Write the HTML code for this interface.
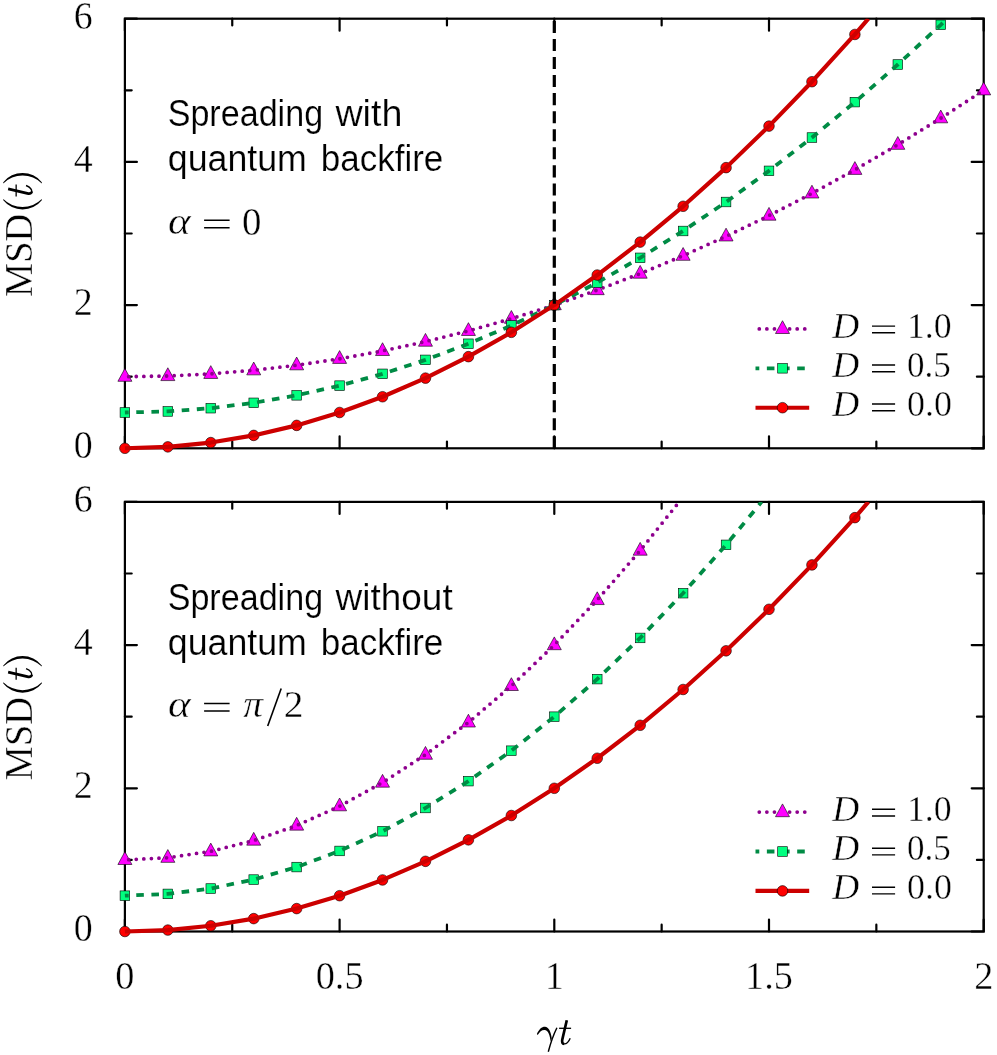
<!DOCTYPE html>
<html><head><meta charset="utf-8"><title>MSD</title>
<style>html,body{margin:0;padding:0;background:#fff}svg{display:block;will-change:transform}text{font-family:"Liberation Serif",serif;fill:#000;stroke:#fff;stroke-width:0.4px}.ss{font-family:"Liberation Sans",sans-serif;stroke-width:0.2px}</style>
</head><body>
<svg width="997" height="1055" viewBox="0 0 997 1055">
<defs>
<clipPath id="cp0"><rect x="116.9" y="18.7" width="874.8000000000001" height="437.6"/></clipPath>
<clipPath id="cp1"><rect x="116.9" y="501.9" width="874.8000000000001" height="437.6"/></clipPath>
</defs>
<rect width="997" height="1055" fill="#fff"/>
<g stroke="#000" stroke-width="2.2" fill="none" stroke-linecap="round" stroke-linejoin="miter">
<rect x="124.9" y="18.7" width="858.8000000000001" height="429.6"/>
<path d="M124.90 448.3v-12.0M124.90 18.7v12.0M232.25 448.3v-6.8M232.25 18.7v6.8M339.60 448.3v-12.0M339.60 18.7v12.0M446.95 448.3v-6.8M446.95 18.7v6.8M554.30 448.3v-12.0M554.30 18.7v12.0M661.65 448.3v-6.8M661.65 18.7v6.8M769.00 448.3v-12.0M769.00 18.7v12.0M876.35 448.3v-6.8M876.35 18.7v6.8M983.70 448.3v-12.0M983.70 18.7v12.0M124.9 448.30h12.0M983.7 448.30h-12.0M124.9 376.70h6.8M983.7 376.70h-6.8M124.9 305.10h12.0M983.7 305.10h-12.0M124.9 233.50h6.8M983.7 233.50h-6.8M124.9 161.90h12.0M983.7 161.90h-12.0M124.9 90.30h6.8M983.7 90.30h-6.8M124.9 18.70h12.0M983.7 18.70h-12.0"/>
</g>
<g clip-path="url(#cp0)">
<path d="M124.90 368.50L117.90 381.30L131.90 381.30Z" fill="#ff00ff" stroke="#000" stroke-width="0.6" stroke-linejoin="miter"/>
<path d="M167.84 367.78L160.84 380.58L174.84 380.58Z" fill="#ff00ff" stroke="#000" stroke-width="0.6" stroke-linejoin="miter"/>
<path d="M210.78 365.64L203.78 378.44L217.78 378.44Z" fill="#ff00ff" stroke="#000" stroke-width="0.6" stroke-linejoin="miter"/>
<path d="M253.72 362.06L246.72 374.86L260.72 374.86Z" fill="#ff00ff" stroke="#000" stroke-width="0.6" stroke-linejoin="miter"/>
<path d="M296.66 357.04L289.66 369.84L303.66 369.84Z" fill="#ff00ff" stroke="#000" stroke-width="0.6" stroke-linejoin="miter"/>
<path d="M339.60 350.60L332.60 363.40L346.60 363.40Z" fill="#ff00ff" stroke="#000" stroke-width="0.6" stroke-linejoin="miter"/>
<path d="M382.54 342.72L375.54 355.52L389.54 355.52Z" fill="#ff00ff" stroke="#000" stroke-width="0.6" stroke-linejoin="miter"/>
<path d="M425.48 333.42L418.48 346.22L432.48 346.22Z" fill="#ff00ff" stroke="#000" stroke-width="0.6" stroke-linejoin="miter"/>
<path d="M468.42 322.68L461.42 335.48L475.42 335.48Z" fill="#ff00ff" stroke="#000" stroke-width="0.6" stroke-linejoin="miter"/>
<path d="M511.36 310.50L504.36 323.30L518.36 323.30Z" fill="#ff00ff" stroke="#000" stroke-width="0.6" stroke-linejoin="miter"/>
<path d="M554.30 296.90L547.30 309.70L561.30 309.70Z" fill="#ff00ff" stroke="#000" stroke-width="0.6" stroke-linejoin="miter"/>
<path d="M597.24 281.86L590.24 294.66L604.24 294.66Z" fill="#ff00ff" stroke="#000" stroke-width="0.6" stroke-linejoin="miter"/>
<path d="M640.18 265.40L633.18 278.20L647.18 278.20Z" fill="#ff00ff" stroke="#000" stroke-width="0.6" stroke-linejoin="miter"/>
<path d="M683.12 247.50L676.12 260.30L690.12 260.30Z" fill="#ff00ff" stroke="#000" stroke-width="0.6" stroke-linejoin="miter"/>
<path d="M726.06 228.16L719.06 240.96L733.06 240.96Z" fill="#ff00ff" stroke="#000" stroke-width="0.6" stroke-linejoin="miter"/>
<path d="M769.00 207.40L762.00 220.20L776.00 220.20Z" fill="#ff00ff" stroke="#000" stroke-width="0.6" stroke-linejoin="miter"/>
<path d="M811.94 185.20L804.94 198.00L818.94 198.00Z" fill="#ff00ff" stroke="#000" stroke-width="0.6" stroke-linejoin="miter"/>
<path d="M854.88 161.58L847.88 174.38L861.88 174.38Z" fill="#ff00ff" stroke="#000" stroke-width="0.6" stroke-linejoin="miter"/>
<path d="M897.82 136.52L890.82 149.32L904.82 149.32Z" fill="#ff00ff" stroke="#000" stroke-width="0.6" stroke-linejoin="miter"/>
<path d="M940.76 110.02L933.76 122.82L947.76 122.82Z" fill="#ff00ff" stroke="#000" stroke-width="0.6" stroke-linejoin="miter"/>
<path d="M983.70 82.10L976.70 94.90L990.70 94.90Z" fill="#ff00ff" stroke="#000" stroke-width="0.6" stroke-linejoin="miter"/>
<path d="M124.90 376.70L167.84 375.98L210.78 373.84L253.72 370.26L296.66 365.24L339.60 358.80L382.54 350.92L425.48 341.62L468.42 330.88L511.36 318.70L554.30 305.10L597.24 290.06L640.18 273.60L683.12 255.70L726.06 236.36L769.00 215.60L811.94 193.40L854.88 169.78L897.82 144.72L940.76 118.22L983.70 90.30" fill="none" stroke="#8e008e" stroke-width="3.79" stroke-linejoin="round" stroke-dasharray="0 7.58" stroke-dashoffset="3.79" stroke-linecap="round"/>
<rect x="120.10" y="407.70" width="9.60" height="9.60" fill="#00ff7f" stroke="#000" stroke-width="0.6"/>
<rect x="163.04" y="406.63" width="9.60" height="9.60" fill="#00ff7f" stroke="#000" stroke-width="0.6"/>
<rect x="205.98" y="403.40" width="9.60" height="9.60" fill="#00ff7f" stroke="#000" stroke-width="0.6"/>
<rect x="248.92" y="398.03" width="9.60" height="9.60" fill="#00ff7f" stroke="#000" stroke-width="0.6"/>
<rect x="291.86" y="390.52" width="9.60" height="9.60" fill="#00ff7f" stroke="#000" stroke-width="0.6"/>
<rect x="334.80" y="380.85" width="9.60" height="9.60" fill="#00ff7f" stroke="#000" stroke-width="0.6"/>
<rect x="377.74" y="369.04" width="9.60" height="9.60" fill="#00ff7f" stroke="#000" stroke-width="0.6"/>
<rect x="420.68" y="355.07" width="9.60" height="9.60" fill="#00ff7f" stroke="#000" stroke-width="0.6"/>
<rect x="463.62" y="338.96" width="9.60" height="9.60" fill="#00ff7f" stroke="#000" stroke-width="0.6"/>
<rect x="506.56" y="320.71" width="9.60" height="9.60" fill="#00ff7f" stroke="#000" stroke-width="0.6"/>
<rect x="549.50" y="300.30" width="9.60" height="9.60" fill="#00ff7f" stroke="#000" stroke-width="0.6"/>
<rect x="592.44" y="277.75" width="9.60" height="9.60" fill="#00ff7f" stroke="#000" stroke-width="0.6"/>
<rect x="635.38" y="253.04" width="9.60" height="9.60" fill="#00ff7f" stroke="#000" stroke-width="0.6"/>
<rect x="678.32" y="226.19" width="9.60" height="9.60" fill="#00ff7f" stroke="#000" stroke-width="0.6"/>
<rect x="721.26" y="197.20" width="9.60" height="9.60" fill="#00ff7f" stroke="#000" stroke-width="0.6"/>
<rect x="764.20" y="166.05" width="9.60" height="9.60" fill="#00ff7f" stroke="#000" stroke-width="0.6"/>
<rect x="807.14" y="132.76" width="9.60" height="9.60" fill="#00ff7f" stroke="#000" stroke-width="0.6"/>
<rect x="850.08" y="97.31" width="9.60" height="9.60" fill="#00ff7f" stroke="#000" stroke-width="0.6"/>
<rect x="893.02" y="59.72" width="9.60" height="9.60" fill="#00ff7f" stroke="#000" stroke-width="0.6"/>
<rect x="935.96" y="19.99" width="9.60" height="9.60" fill="#00ff7f" stroke="#000" stroke-width="0.6"/>
<path d="M124.90 412.50L167.84 411.43L210.78 408.20L253.72 402.83L296.66 395.32L339.60 385.65L382.54 373.84L425.48 359.87L468.42 343.76L511.36 325.51L554.30 305.10L597.24 282.55L640.18 257.84L683.12 230.99L726.06 202.00L769.00 170.85L811.94 137.56L854.88 102.11L897.82 64.52L940.76 24.79L947.00 18.70" fill="none" stroke="#008b45" stroke-width="3.79" stroke-linejoin="round" stroke-dasharray="7.58 7.58" stroke-dashoffset="3.79" stroke-linecap="butt"/>
<circle cx="124.90" cy="448.30" r="5.3" fill="#ff0000" stroke="#000" stroke-width="0.6"/>
<circle cx="167.84" cy="446.87" r="5.3" fill="#ff0000" stroke="#000" stroke-width="0.6"/>
<circle cx="210.78" cy="442.57" r="5.3" fill="#ff0000" stroke="#000" stroke-width="0.6"/>
<circle cx="253.72" cy="435.41" r="5.3" fill="#ff0000" stroke="#000" stroke-width="0.6"/>
<circle cx="296.66" cy="425.39" r="5.3" fill="#ff0000" stroke="#000" stroke-width="0.6"/>
<circle cx="339.60" cy="412.50" r="5.3" fill="#ff0000" stroke="#000" stroke-width="0.6"/>
<circle cx="382.54" cy="396.75" r="5.3" fill="#ff0000" stroke="#000" stroke-width="0.6"/>
<circle cx="425.48" cy="378.13" r="5.3" fill="#ff0000" stroke="#000" stroke-width="0.6"/>
<circle cx="468.42" cy="356.65" r="5.3" fill="#ff0000" stroke="#000" stroke-width="0.6"/>
<circle cx="511.36" cy="332.31" r="5.3" fill="#ff0000" stroke="#000" stroke-width="0.6"/>
<circle cx="554.30" cy="305.10" r="5.3" fill="#ff0000" stroke="#000" stroke-width="0.6"/>
<circle cx="597.24" cy="275.03" r="5.3" fill="#ff0000" stroke="#000" stroke-width="0.6"/>
<circle cx="640.18" cy="242.09" r="5.3" fill="#ff0000" stroke="#000" stroke-width="0.6"/>
<circle cx="683.12" cy="206.29" r="5.3" fill="#ff0000" stroke="#000" stroke-width="0.6"/>
<circle cx="726.06" cy="167.63" r="5.3" fill="#ff0000" stroke="#000" stroke-width="0.6"/>
<circle cx="769.00" cy="126.10" r="5.3" fill="#ff0000" stroke="#000" stroke-width="0.6"/>
<circle cx="811.94" cy="81.71" r="5.3" fill="#ff0000" stroke="#000" stroke-width="0.6"/>
<circle cx="854.88" cy="34.45" r="5.3" fill="#ff0000" stroke="#000" stroke-width="0.6"/>
<path d="M124.90 448.30L167.84 446.87L210.78 442.57L253.72 435.41L296.66 425.39L339.60 412.50L382.54 396.75L425.48 378.13L468.42 356.65L511.36 332.31L554.30 305.10L597.24 275.03L640.18 242.09L683.12 206.29L726.06 167.63L769.00 126.10L811.94 81.71L854.88 34.45L868.38 18.70" fill="none" stroke="#cc0000" stroke-width="4.15" stroke-linejoin="round" stroke-linecap="butt"/>
</g>
<path d="M554.30 448.3V18.7" stroke="#000" stroke-width="3.2" stroke-dasharray="12.04 6.02" fill="none"/>
<path d="M755.5 328.90H809.2" fill="none" stroke="#8e008e" stroke-width="3.79" stroke-dasharray="0 7.58" stroke-dashoffset="3.79" stroke-linecap="round"/>
<path d="M782.50 320.70L775.50 333.50L789.50 333.50Z" fill="#ff00ff" stroke="#000" stroke-width="0.6" stroke-linejoin="miter"/>
<path d="M755.5 368.30H809.2" fill="none" stroke="#008b45" stroke-width="3.79" stroke-dasharray="7.58 7.58" stroke-dashoffset="3.79" stroke-linecap="butt"/>
<rect x="777.70" y="363.50" width="9.60" height="9.60" fill="#00ff7f" stroke="#000" stroke-width="0.6"/>
<path d="M755.5 407.70H809.2" fill="none" stroke="#cc0000" stroke-width="4.15" stroke-linecap="butt"/>
<circle cx="782.50" cy="407.70" r="5.3" fill="#ff0000" stroke="#000" stroke-width="0.6"/>
<g stroke="#000" stroke-width="2.2" fill="none" stroke-linecap="round" stroke-linejoin="miter">
<rect x="124.9" y="501.9" width="858.8000000000001" height="429.6"/>
<path d="M124.90 931.5v-12.0M124.90 501.9v12.0M232.25 931.5v-6.8M232.25 501.9v6.8M339.60 931.5v-12.0M339.60 501.9v12.0M446.95 931.5v-6.8M446.95 501.9v6.8M554.30 931.5v-12.0M554.30 501.9v12.0M661.65 931.5v-6.8M661.65 501.9v6.8M769.00 931.5v-12.0M769.00 501.9v12.0M876.35 931.5v-6.8M876.35 501.9v6.8M983.70 931.5v-12.0M983.70 501.9v12.0M124.9 931.50h12.0M983.7 931.50h-12.0M124.9 859.90h6.8M983.7 859.90h-6.8M124.9 788.30h12.0M983.7 788.30h-12.0M124.9 716.70h6.8M983.7 716.70h-6.8M124.9 645.10h12.0M983.7 645.10h-12.0M124.9 573.50h6.8M983.7 573.50h-6.8M124.9 501.90h12.0M983.7 501.90h-12.0"/>
</g>
<g clip-path="url(#cp1)">
<path d="M124.90 851.70L117.90 864.50L131.90 864.50Z" fill="#ff00ff" stroke="#000" stroke-width="0.6" stroke-linejoin="miter"/>
<path d="M167.84 849.55L160.84 862.35L174.84 862.35Z" fill="#ff00ff" stroke="#000" stroke-width="0.6" stroke-linejoin="miter"/>
<path d="M210.78 843.11L203.78 855.91L217.78 855.91Z" fill="#ff00ff" stroke="#000" stroke-width="0.6" stroke-linejoin="miter"/>
<path d="M253.72 832.37L246.72 845.17L260.72 845.17Z" fill="#ff00ff" stroke="#000" stroke-width="0.6" stroke-linejoin="miter"/>
<path d="M296.66 817.33L289.66 830.13L303.66 830.13Z" fill="#ff00ff" stroke="#000" stroke-width="0.6" stroke-linejoin="miter"/>
<path d="M339.60 798.00L332.60 810.80L346.60 810.80Z" fill="#ff00ff" stroke="#000" stroke-width="0.6" stroke-linejoin="miter"/>
<path d="M382.54 774.37L375.54 787.17L389.54 787.17Z" fill="#ff00ff" stroke="#000" stroke-width="0.6" stroke-linejoin="miter"/>
<path d="M425.48 746.45L418.48 759.25L432.48 759.25Z" fill="#ff00ff" stroke="#000" stroke-width="0.6" stroke-linejoin="miter"/>
<path d="M468.42 714.23L461.42 727.03L475.42 727.03Z" fill="#ff00ff" stroke="#000" stroke-width="0.6" stroke-linejoin="miter"/>
<path d="M511.36 677.71L504.36 690.51L518.36 690.51Z" fill="#ff00ff" stroke="#000" stroke-width="0.6" stroke-linejoin="miter"/>
<path d="M554.30 636.90L547.30 649.70L561.30 649.70Z" fill="#ff00ff" stroke="#000" stroke-width="0.6" stroke-linejoin="miter"/>
<path d="M597.24 591.79L590.24 604.59L604.24 604.59Z" fill="#ff00ff" stroke="#000" stroke-width="0.6" stroke-linejoin="miter"/>
<path d="M640.18 542.39L633.18 555.19L647.18 555.19Z" fill="#ff00ff" stroke="#000" stroke-width="0.6" stroke-linejoin="miter"/>
<path d="M124.90 859.90L167.84 857.75L210.78 851.31L253.72 840.57L296.66 825.53L339.60 806.20L382.54 782.57L425.48 754.65L468.42 722.43L511.36 685.91L554.30 645.10L597.24 599.99L640.18 550.59L679.11 501.90" fill="none" stroke="#8e008e" stroke-width="3.79" stroke-linejoin="round" stroke-dasharray="0 7.58" stroke-dashoffset="3.79" stroke-linecap="round"/>
<rect x="120.10" y="890.90" width="9.60" height="9.60" fill="#00ff7f" stroke="#000" stroke-width="0.6"/>
<rect x="163.04" y="889.11" width="9.60" height="9.60" fill="#00ff7f" stroke="#000" stroke-width="0.6"/>
<rect x="205.98" y="883.74" width="9.60" height="9.60" fill="#00ff7f" stroke="#000" stroke-width="0.6"/>
<rect x="248.92" y="874.79" width="9.60" height="9.60" fill="#00ff7f" stroke="#000" stroke-width="0.6"/>
<rect x="291.86" y="862.26" width="9.60" height="9.60" fill="#00ff7f" stroke="#000" stroke-width="0.6"/>
<rect x="334.80" y="846.15" width="9.60" height="9.60" fill="#00ff7f" stroke="#000" stroke-width="0.6"/>
<rect x="377.74" y="826.46" width="9.60" height="9.60" fill="#00ff7f" stroke="#000" stroke-width="0.6"/>
<rect x="420.68" y="803.19" width="9.60" height="9.60" fill="#00ff7f" stroke="#000" stroke-width="0.6"/>
<rect x="463.62" y="776.34" width="9.60" height="9.60" fill="#00ff7f" stroke="#000" stroke-width="0.6"/>
<rect x="506.56" y="745.91" width="9.60" height="9.60" fill="#00ff7f" stroke="#000" stroke-width="0.6"/>
<rect x="549.50" y="711.90" width="9.60" height="9.60" fill="#00ff7f" stroke="#000" stroke-width="0.6"/>
<rect x="592.44" y="674.31" width="9.60" height="9.60" fill="#00ff7f" stroke="#000" stroke-width="0.6"/>
<rect x="635.38" y="633.14" width="9.60" height="9.60" fill="#00ff7f" stroke="#000" stroke-width="0.6"/>
<rect x="678.32" y="588.39" width="9.60" height="9.60" fill="#00ff7f" stroke="#000" stroke-width="0.6"/>
<rect x="721.26" y="540.06" width="9.60" height="9.60" fill="#00ff7f" stroke="#000" stroke-width="0.6"/>
<path d="M124.90 895.70L167.84 893.91L210.78 888.54L253.72 879.59L296.66 867.06L339.60 850.95L382.54 831.26L425.48 807.99L468.42 781.14L511.36 750.71L554.30 716.70L597.24 679.11L640.18 637.94L683.12 593.19L726.06 544.86L761.60 501.90" fill="none" stroke="#008b45" stroke-width="3.79" stroke-linejoin="round" stroke-dasharray="7.58 7.58" stroke-dashoffset="3.79" stroke-linecap="butt"/>
<circle cx="124.90" cy="931.50" r="5.3" fill="#ff0000" stroke="#000" stroke-width="0.6"/>
<circle cx="167.84" cy="930.07" r="5.3" fill="#ff0000" stroke="#000" stroke-width="0.6"/>
<circle cx="210.78" cy="925.77" r="5.3" fill="#ff0000" stroke="#000" stroke-width="0.6"/>
<circle cx="253.72" cy="918.61" r="5.3" fill="#ff0000" stroke="#000" stroke-width="0.6"/>
<circle cx="296.66" cy="908.59" r="5.3" fill="#ff0000" stroke="#000" stroke-width="0.6"/>
<circle cx="339.60" cy="895.70" r="5.3" fill="#ff0000" stroke="#000" stroke-width="0.6"/>
<circle cx="382.54" cy="879.95" r="5.3" fill="#ff0000" stroke="#000" stroke-width="0.6"/>
<circle cx="425.48" cy="861.33" r="5.3" fill="#ff0000" stroke="#000" stroke-width="0.6"/>
<circle cx="468.42" cy="839.85" r="5.3" fill="#ff0000" stroke="#000" stroke-width="0.6"/>
<circle cx="511.36" cy="815.51" r="5.3" fill="#ff0000" stroke="#000" stroke-width="0.6"/>
<circle cx="554.30" cy="788.30" r="5.3" fill="#ff0000" stroke="#000" stroke-width="0.6"/>
<circle cx="597.24" cy="758.23" r="5.3" fill="#ff0000" stroke="#000" stroke-width="0.6"/>
<circle cx="640.18" cy="725.29" r="5.3" fill="#ff0000" stroke="#000" stroke-width="0.6"/>
<circle cx="683.12" cy="689.49" r="5.3" fill="#ff0000" stroke="#000" stroke-width="0.6"/>
<circle cx="726.06" cy="650.83" r="5.3" fill="#ff0000" stroke="#000" stroke-width="0.6"/>
<circle cx="769.00" cy="609.30" r="5.3" fill="#ff0000" stroke="#000" stroke-width="0.6"/>
<circle cx="811.94" cy="564.91" r="5.3" fill="#ff0000" stroke="#000" stroke-width="0.6"/>
<circle cx="854.88" cy="517.65" r="5.3" fill="#ff0000" stroke="#000" stroke-width="0.6"/>
<path d="M124.90 931.50L167.84 930.07L210.78 925.77L253.72 918.61L296.66 908.59L339.60 895.70L382.54 879.95L425.48 861.33L468.42 839.85L511.36 815.51L554.30 788.30L597.24 758.23L640.18 725.29L683.12 689.49L726.06 650.83L769.00 609.30L811.94 564.91L854.88 517.65L868.38 501.90" fill="none" stroke="#cc0000" stroke-width="4.15" stroke-linejoin="round" stroke-linecap="butt"/>
</g>
<path d="M755.5 812.10H809.2" fill="none" stroke="#8e008e" stroke-width="3.79" stroke-dasharray="0 7.58" stroke-dashoffset="3.79" stroke-linecap="round"/>
<path d="M782.50 803.90L775.50 816.70L789.50 816.70Z" fill="#ff00ff" stroke="#000" stroke-width="0.6" stroke-linejoin="miter"/>
<path d="M755.5 851.50H809.2" fill="none" stroke="#008b45" stroke-width="3.79" stroke-dasharray="7.58 7.58" stroke-dashoffset="3.79" stroke-linecap="butt"/>
<rect x="777.70" y="846.70" width="9.60" height="9.60" fill="#00ff7f" stroke="#000" stroke-width="0.6"/>
<path d="M755.5 890.90H809.2" fill="none" stroke="#cc0000" stroke-width="4.15" stroke-linecap="butt"/>
<circle cx="782.50" cy="890.90" r="5.3" fill="#ff0000" stroke="#000" stroke-width="0.6"/>
<text transform="matrix(0.9321 0 0 1.0000 167.67 125.90)" class="ss" font-size="36.6">Spreading</text>
<text transform="matrix(1.0295 0 0 1.0000 335.40 125.90)" class="ss" font-size="36.6">with</text>
<text transform="matrix(0.9762 0 0 1.0000 167.84 171.10)" class="ss" font-size="36.6">quantum</text>
<text transform="matrix(0.9569 0 0 1.0000 320.75 171.10)" class="ss" font-size="36.6">backfire</text>
<text transform="matrix(1.1179 0 0 0.9784 167.90 234.16)" font-style="italic" font-size="38.5">α</text>
<text transform="matrix(0.9851 0 0 1.0000 242.02 234.55)" font-size="39.5">0</text>
<text transform="matrix(1.0680 0 0 1.0196 832.17 338.00)" font-style="italic" font-size="35">D</text>
<text transform="matrix(1.0075 0 0 1.0083 906.88 338.10)" font-size="35.5">1.0</text>
<text transform="matrix(1.0680 0 0 1.0196 832.17 376.90)" font-style="italic" font-size="35">D</text>
<text transform="matrix(0.9844 0 0 1.0083 906.97 377.00)" font-size="35.5">0.5</text>
<text transform="matrix(1.0680 0 0 1.0196 832.17 415.90)" font-style="italic" font-size="35">D</text>
<text transform="matrix(1.0132 0 0 1.0083 906.93 416.00)" font-size="35.5">0.0</text>
<text transform="translate(31.85 295.70) rotate(-90) matrix(0.9847 0 0 1.0115 -1.23 0.15)" font-size="39">MSD</text>
<text transform="matrix(0.9321 0 0 1.0000 167.67 609.50)" class="ss" font-size="36.6">Spreading</text>
<text transform="matrix(1.0108 0 0 1.0000 335.50 609.50)" class="ss" font-size="36.6">without</text>
<text transform="matrix(0.9762 0 0 1.0000 167.84 654.70)" class="ss" font-size="36.6">quantum</text>
<text transform="matrix(0.9569 0 0 1.0000 320.75 654.70)" class="ss" font-size="36.6">backfire</text>
<text transform="matrix(1.1179 0 0 0.9784 167.90 717.36)" font-style="italic" font-size="38.5">α</text>
<text transform="matrix(1.0278 0 0 0.9833 243.24 717.05)" font-style="italic" font-size="38.5">π</text>
<text transform="matrix(1.0000 0 0 0.9500 283.85 717.10)" font-size="39.5">2</text>
<text transform="matrix(1.0680 0 0 1.0196 832.17 821.20)" font-style="italic" font-size="35">D</text>
<text transform="matrix(1.0075 0 0 1.0083 906.88 821.30)" font-size="35.5">1.0</text>
<text transform="matrix(1.0680 0 0 1.0196 832.17 860.10)" font-style="italic" font-size="35">D</text>
<text transform="matrix(0.9844 0 0 1.0083 906.97 860.20)" font-size="35.5">0.5</text>
<text transform="matrix(1.0680 0 0 1.0196 832.17 899.10)" font-style="italic" font-size="35">D</text>
<text transform="matrix(1.0132 0 0 1.0083 906.93 899.20)" font-size="35.5">0.0</text>
<text transform="translate(31.85 778.90) rotate(-90) matrix(0.9847 0 0 1.0115 -1.23 0.15)" font-size="39">MSD</text>
<text transform="translate(92.6 458.20) scale(0.96 1)" text-anchor="end" font-size="39.5">0</text>
<text transform="translate(92.6 315.00) scale(0.96 1)" text-anchor="end" font-size="39.5">2</text>
<text transform="translate(92.6 171.80) scale(0.96 1)" text-anchor="end" font-size="39.5">4</text>
<text transform="translate(92.6 28.60) scale(0.96 1)" text-anchor="end" font-size="39.5">6</text>
<text transform="translate(92.6 941.40) scale(0.96 1)" text-anchor="end" font-size="39.5">0</text>
<text transform="translate(92.6 798.20) scale(0.96 1)" text-anchor="end" font-size="39.5">2</text>
<text transform="translate(92.6 655.00) scale(0.96 1)" text-anchor="end" font-size="39.5">4</text>
<text transform="translate(92.6 511.80) scale(0.96 1)" text-anchor="end" font-size="39.5">6</text>
<text transform="translate(124.90 989.0) scale(0.97 1)" text-anchor="middle" font-size="39.5">0</text>
<text transform="translate(339.60 989.0) scale(0.97 1)" text-anchor="middle" font-size="39.5">0.5</text>
<text transform="translate(554.30 989.0) scale(0.97 1)" text-anchor="middle" font-size="39.5">1</text>
<text transform="translate(769.00 989.0) scale(0.97 1)" text-anchor="middle" font-size="39.5">1.5</text>
<text transform="translate(983.70 989.0) scale(0.97 1)" text-anchor="middle" font-size="39.5">2</text>
<path d="M204.1 220.20H229.6M204.1 227.80H229.6" stroke="#000" stroke-width="1.5" fill="none"/>
<path d="M872.0 326.10H895.1M872.0 332.80H895.1" stroke="#000" stroke-width="1.4" fill="none"/>
<path d="M872.0 365.00H895.1M872.0 371.70H895.1" stroke="#000" stroke-width="1.4" fill="none"/>
<path d="M872.0 404.00H895.1M872.0 410.70H895.1" stroke="#000" stroke-width="1.4" fill="none"/>
<path d="M204.1 703.40H229.6M204.1 711.00H229.6" stroke="#000" stroke-width="1.5" fill="none"/>
<path d="M872.0 809.30H895.1M872.0 816.00H895.1" stroke="#000" stroke-width="1.4" fill="none"/>
<path d="M872.0 848.20H895.1M872.0 854.90H895.1" stroke="#000" stroke-width="1.4" fill="none"/>
<path d="M872.0 887.20H895.1M872.0 893.90H895.1" stroke="#000" stroke-width="1.4" fill="none"/>
<path d="M536.9 1034.0C539.0 1029.3 541.8 1026.7 545.0 1026.8C548.6 1027.0 550.9 1031.4 551.8 1038.6L550.6 1041.2C549.9 1034.8 548.2 1030.3 544.6 1029.9C542.0 1029.7 539.6 1031.6 537.7 1035.0Z" fill="#000"/>
<path d="M556.9 1027.7C554.2 1033.2 551.2 1040.5 548.3 1051.8" stroke="#000" stroke-width="1.45" fill="none" stroke-linecap="butt"/>
<g transform="translate(559.1 1044.0)" fill="none" stroke="#000"><path d="M7.7 -23.7L3.2 -4.5C2.6 -1.8 3.3 -0.2 5.1 -0.1" stroke-width="2.7"/><path d="M4.3 -0.2C7.4 0.5 9.7 -2.5 11.1 -5.8" stroke-width="1.4"/><path d="M0 -15.7H12" stroke-width="1.3"/></g>
<g transform="translate(31.85 295.70) rotate(-90) translate(99.1 0)" fill="none" stroke="#000"><path d="M7.7 -23.7L3.2 -4.5C2.6 -1.8 3.3 -0.2 5.1 -0.1" stroke-width="2.7"/><path d="M4.3 -0.2C7.4 0.5 9.7 -2.5 11.1 -5.8" stroke-width="1.4"/><path d="M0 -15.7H12" stroke-width="1.3"/></g>
<path transform="translate(31.85 295.70) rotate(-90)" d="M95.5 -28.55A24.6 24.6 0 0 0 95.5 9.95L96.7 9.95A27.2 27.2 0 0 1 96.7 -28.55ZM113.5 -28.55A24.6 24.6 0 0 1 113.5 9.95L112.3 9.95A27.2 27.2 0 0 0 112.3 -28.55Z" fill="#000"/>
<g transform="translate(31.85 778.90) rotate(-90) translate(99.1 0)" fill="none" stroke="#000"><path d="M7.7 -23.7L3.2 -4.5C2.6 -1.8 3.3 -0.2 5.1 -0.1" stroke-width="2.7"/><path d="M4.3 -0.2C7.4 0.5 9.7 -2.5 11.1 -5.8" stroke-width="1.4"/><path d="M0 -15.7H12" stroke-width="1.3"/></g>
<path transform="translate(31.85 778.90) rotate(-90)" d="M95.5 -28.55A24.6 24.6 0 0 0 95.5 9.95L96.7 9.95A27.2 27.2 0 0 1 96.7 -28.55ZM113.5 -28.55A24.6 24.6 0 0 1 113.5 9.95L112.3 9.95A27.2 27.2 0 0 0 112.3 -28.55Z" fill="#000"/>
<path d="M267.7 725.9L281.2 688.4" stroke="#000" stroke-width="1.6" fill="none"/>
</svg>
</body></html>
